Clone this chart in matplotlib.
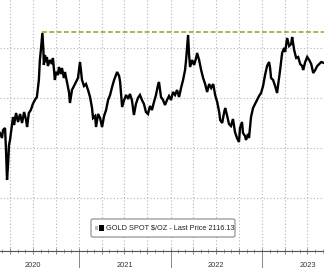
import matplotlib
matplotlib.use("Agg")
import matplotlib.pyplot as plt
import matplotlib.dates as mdates
import matplotlib.transforms as mtrans
from matplotlib.patches import FancyBboxPatch, Rectangle
import pandas as pd

dates = [
    "2020-02-21", "2020-02-29", "2020-03-04", "2020-03-12", "2020-03-16", "2020-03-20", "2020-03-24", "2020-03-28",
    "2020-04-01", "2020-04-05", "2020-04-13", "2020-04-17", "2020-04-25", "2020-05-03", "2020-05-11", "2020-05-19",
    "2020-05-27", "2020-06-04", "2020-06-08", "2020-06-15", "2020-06-23", "2020-07-01", "2020-07-09", "2020-07-17",
    "2020-07-25", "2020-07-29", "2020-08-02", "2020-08-08", "2020-08-12", "2020-08-14", "2020-08-18", "2020-08-22",
    "2020-08-26", "2020-08-30", "2020-09-07", "2020-09-15", "2020-09-19", "2020-09-27", "2020-10-01", "2020-10-09",
    "2020-10-13", "2020-10-21", "2020-10-25", "2020-11-02", "2020-11-06", "2020-11-14", "2020-11-22", "2020-11-26",
    "2020-12-04", "2020-12-12", "2020-12-20", "2020-12-28", "2021-01-05", "2021-01-13", "2021-01-21", "2021-01-29",
    "2021-02-06", "2021-02-14", "2021-02-22", "2021-02-26", "2021-03-06", "2021-03-10", "2021-03-18", "2021-03-26",
    "2021-04-03", "2021-04-11", "2021-04-19", "2021-04-27", "2021-05-05", "2021-05-13", "2021-05-21", "2021-06-02",
    "2021-06-10", "2021-06-14", "2021-06-22", "2021-06-30", "2021-07-08", "2021-07-16", "2021-07-23", "2021-07-31",
    "2021-08-08", "2021-08-16", "2021-08-24", "2021-09-01", "2021-09-09", "2021-09-17", "2021-09-25", "2021-10-03",
    "2021-10-11", "2021-10-19", "2021-10-27", "2021-11-04", "2021-11-12", "2021-11-16", "2021-11-24", "2021-12-02",
    "2021-12-10", "2021-12-18", "2021-12-26", "2022-01-03", "2022-01-11", "2022-01-19", "2022-01-27", "2022-02-04",
    "2022-02-12", "2022-02-20", "2022-02-28", "2022-03-04", "2022-03-12", "2022-03-16", "2022-03-20", "2022-03-28",
    "2022-04-05", "2022-04-13", "2022-04-17", "2022-04-25", "2022-05-03", "2022-05-11", "2022-05-19", "2022-05-27",
    "2022-06-04", "2022-06-12", "2022-06-20", "2022-06-28", "2022-07-06", "2022-07-14", "2022-07-18", "2022-07-26",
    "2022-08-03", "2022-08-07", "2022-08-15", "2022-08-22", "2022-08-30", "2022-09-07", "2022-09-15", "2022-09-23",
    "2022-10-01", "2022-10-05", "2022-10-13", "2022-10-17", "2022-10-25", "2022-10-29", "2022-11-06", "2022-11-10",
    "2022-11-18", "2022-11-26", "2022-12-04", "2022-12-12", "2022-12-20", "2022-12-28", "2023-01-05", "2023-01-13",
    "2023-01-21", "2023-01-29", "2023-02-02", "2023-02-06", "2023-02-14", "2023-02-22", "2023-03-02", "2023-03-06",
    "2023-03-14", "2023-03-22", "2023-03-30", "2023-04-03", "2023-04-11", "2023-04-19", "2023-04-27", "2023-05-01",
    "2023-05-09", "2023-05-17", "2023-05-25", "2023-06-02", "2023-06-10", "2023-06-14", "2023-06-22", "2023-06-30",
    "2023-07-08", "2023-07-16", "2023-07-24", "2023-08-01", "2023-08-09", "2023-08-17", "2023-08-25", "2023-09-05",
]
prices = [
    1660, 1640, 1672, 1680, 1592, 1472, 1532, 1612,
    1632, 1664, 1724, 1692, 1740, 1704, 1736, 1700,
    1744, 1712, 1684, 1740, 1752, 1776, 1792, 1804,
    1872, 1952, 1992, 2060, 1992, 1932, 1972, 1944,
    1964, 1928, 1952, 1936, 1960, 1872, 1904, 1892,
    1924, 1896, 1920, 1880, 1904, 1864, 1824, 1780,
    1832, 1848, 1864, 1880, 1944, 1872, 1848, 1856,
    1832, 1804, 1760, 1720, 1728, 1684, 1736, 1720,
    1684, 1728, 1752, 1792, 1812, 1844, 1872, 1904,
    1888, 1864, 1764, 1792, 1812, 1796, 1816, 1792,
    1732, 1776, 1800, 1812, 1792, 1776, 1744, 1736,
    1768, 1752, 1784, 1812, 1852, 1864, 1804, 1792,
    1772, 1792, 1808, 1792, 1824, 1812, 1832, 1804,
    1840, 1872, 1912, 1952, 2052, 1972, 1924, 1952,
    1932, 1960, 1980, 1952, 1912, 1880, 1856, 1824,
    1856, 1840, 1856, 1812, 1784, 1744, 1712, 1700,
    1744, 1760, 1728, 1696, 1688, 1716, 1664, 1640,
    1624, 1680, 1704, 1660, 1648, 1632, 1656, 1640,
    1724, 1760, 1776, 1792, 1808, 1820, 1848, 1892,
    1928, 1944, 1920, 1880, 1872, 1848, 1820, 1852,
    1912, 1980, 2000, 1984, 2040, 2008, 2016, 2044,
    1992, 1960, 1964, 1936, 1928, 1912, 1944, 1964,
    1952, 1936, 1900, 1912, 1928, 1936, 1944, 1940,
]
high_level = 2064
high_start = "2020-08-08"
year_labels = ["2020", "2021", "2022", "2023"]
legend_label = "GOLD SPOT $/OZ - Last Price 2116.13"
y_grid = [1400, 1600, 1800, 2000]

x = pd.to_datetime(dates)

W, H = 324, 268
fig = plt.figure(figsize=(W / 100, H / 100), dpi=100)
fig.patch.set_facecolor("white")
ax = fig.add_axes([0, 17 / H, 1, 251 / H])
ax.set_facecolor("white")

ax.plot(x, prices, color="black", lw=1.7, solid_joinstyle="miter", zorder=3)
ax.hlines(high_level, pd.Timestamp(high_start), x[-1], colors="#8aa624",
          linestyles=(0, (3.2, 1.6)), lw=1.1, zorder=2)

ax.set_xlim(pd.Timestamp("2020-02-21"), pd.Timestamp("2023-09-05"))
ax.set_ylim(1188, 2192)

for s in ["left", "right", "top"]:
    ax.spines[s].set_visible(False)
ax.spines["bottom"].set_color("#555555")
ax.spines["bottom"].set_linewidth(0.8)

ax.set_yticks(y_grid)
ax.tick_params(axis="y", left=False, labelleft=False)
ax.xaxis.set_major_locator(mdates.MonthLocator(bymonth=[1, 4, 7, 10]))
ax.xaxis.set_minor_locator(mdates.MonthLocator())
ax.tick_params(axis="x", which="major", direction="inout", length=5, width=0.6,
               color="#777777", labelbottom=False)
ax.tick_params(axis="x", which="minor", direction="inout", length=3, width=0.5,
               color="#777777")
ax.grid(True, which="major", axis="both", color="#b5b5b5", lw=0.8,
        linestyle=(0, (1, 2)), zorder=1)

trans = mtrans.blended_transform_factory(ax.transData, ax.transAxes)
for i, yl in enumerate(year_labels):
    mid = pd.Timestamp(f"{yl}-07-01")
    ax.text(mid, -0.058, yl, transform=trans, ha="center", va="center",
            fontsize=5.3, family="Liberation Sans", color="#333333", clip_on=False)
    if i > 0:
        ax.plot([pd.Timestamp(f"{yl}-01-01")] * 2, [0, -0.08], transform=trans,
                color="#888888", lw=0.7, clip_on=False)

# legend box
bx0, by0, bw, bh = 91 / W, 1 - 237 / H, 144 / W, 18 / H
box = FancyBboxPatch((bx0, by0), bw, bh, transform=fig.transFigure,
                     boxstyle="round,pad=0,rounding_size=0.006",
                     facecolor="white", edgecolor="#888888", lw=0.8, zorder=5)
fig.patches.append(box)
ly = by0 + bh / 2
fig.patches.append(Rectangle((94.5 / W, ly - 2 / H), 3 / W, 4 / H, transform=fig.transFigure,
                             facecolor="#bbbbbb", edgecolor="none", zorder=6))
fig.patches.append(Rectangle((98.5 / W, ly - 3 / H), 5 / W, 6 / H, transform=fig.transFigure,
                             facecolor="black", edgecolor="none", zorder=6))
fig.text(105.5 / W, ly, legend_label, fontsize=5.3, color="#222222", ha="left",
         va="center", family="Liberation Sans", zorder=6)

fig.savefig("out.png", dpi=100)
